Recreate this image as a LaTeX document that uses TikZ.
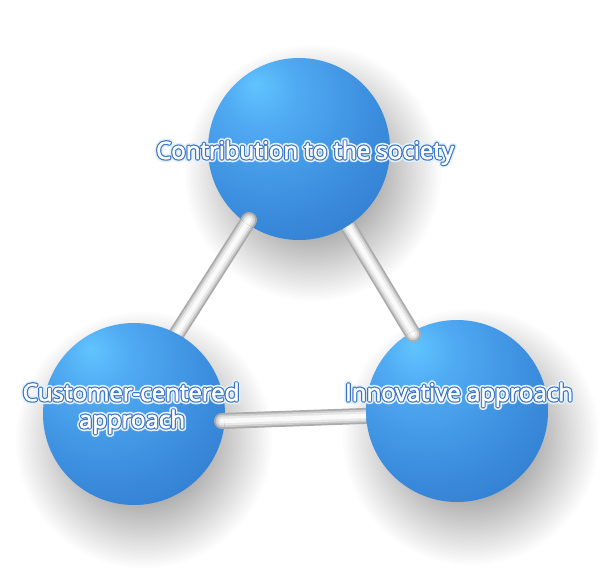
\documentclass[tikz,border=0pt]{standalone}
\usepackage{fontspec}
\setmainfont{Open Sans}
\usetikzlibrary{calc}
\definecolor{sphHL}{RGB}{96,196,255}
\definecolor{sphA}{RGB}{80,170,242}
\definecolor{sphB}{RGB}{60,142,222}
\definecolor{sphC}{RGB}{44,116,200}
\definecolor{sphD}{RGB}{28,88,166}
\definecolor{barA}{RGB}{170,170,170}
\definecolor{barB}{RGB}{205,205,205}
\definecolor{barC}{RGB}{232,232,232}
\definecolor{barD}{RGB}{250,250,250}
\definecolor{outc}{RGB}{60,118,194}
\definecolor{glowc}{RGB}{228,241,253}
\pgfdeclareradialshading{sphereshade}{\pgfpoint{-12bp}{18bp}}{color(0bp)=(sphHL); color(10bp)=(sphA); color(28bp)=(sphB); color(48bp)=(sphC); color(70bp)=(sphD); color(85bp)=(sphD)}
\tikzset{
  sphere/.style={circle, minimum size=182pt, inner sep=0pt, shading=sphereshade},
  shadowring/.style={fill=black, opacity=0.012},
  barA/.style={line width=16pt, line cap=round, draw=barA},
  barB/.style={line width=12.5pt, line cap=round, draw=barB},
  barC/.style={line width=9pt, line cap=round, draw=barC},
  barD/.style={line width=4.5pt, line cap=round, draw=barD},
  lbl/.style={font=\fontsize{24}{30}\selectfont, inner sep=0pt, anchor=base}
}
\newcommand\cylbar[2]{%
  \draw[barA] #1 -- #2;
  \draw[barB] #1 -- #2;
  \draw[barC] #1 -- #2;
  \draw[barD] #1 -- #2;}
\newcommand\softshadow[1]{%
  \foreach \rr in {128,125.5,...,50} {\fill[shadowring] #1 circle (\rr);}}
\newcommand\strokedtext[3]{{\color{#1}\special{pdf:literal direct 2 Tr #2 w 1 j}#3\special{pdf:literal direct 0 Tr 1 w 0 j}}}
\newcommand\glowlabel[3]{%
  \node[lbl] (#1g) at #2 {\strokedtext{glowc}{6.2}{#3}};
  \node[lbl] (#1o) at #2 {\strokedtext{outc}{3.0}{#3}};
  \node[lbl] (#1) at #2 {\strokedtext{white}{0.6}{#3}};}
\begin{document}
\begin{tikzpicture}[x=1pt,y=-1pt]
\useasboundingbox[fill=white] (0,0) rectangle (610,569);
\coordinate (Tc) at (299,149);
\coordinate (Lc) at (134,414);
\coordinate (Rc) at (457,411);
% shadows
\softshadow{($(Tc)+(14,24)$)}
\softshadow{($(Lc)+(10,26)$)}
\softshadow{($(Rc)+(14,26)$)}
% bars behind
\cylbar{($(Tc)+(-50,71)$)}{($(Lc)+(33,-65)$)}
\cylbar{($(Tc)+(22,32)$)}{($(Rc)+(-44,-77)$)}
\cylbar{($(Lc)+(88,7)$)}{($(Rc)+(-37,3)$)}
% spheres
\node[sphere] (T) at (Tc) {};
\node[sphere] (L) at (Lc) {};
\node[sphere] (R) at (Rc) {};
% front ends of the bars
\begin{scope}
  \clip (T.center) circle (91);
  \cylbar{($(T.center)+(-50,71)$)}{($(L.center)+(33,-65)$)}
\end{scope}
\begin{scope}
  \clip (R.center) circle (91);
  \cylbar{($(T.center)+(22,32)$)}{($(R.center)+(-44,-77)$)}
\end{scope}
\begin{scope}
  \clip (L.center) circle (91);
  \cylbar{($(L.center)+(88,7)$)}{($(R.center)+(-37,3)$)}
\end{scope}
% labels
\glowlabel{tT}{(305,159)}{Contribution to the society}
\glowlabel{tL1}{(131,401)}{Customer-centered}
\glowlabel{tL2}{(132,428)}{approach}
\glowlabel{tR}{(459,401)}{Innovative approach}
\end{tikzpicture}
\end{document}
